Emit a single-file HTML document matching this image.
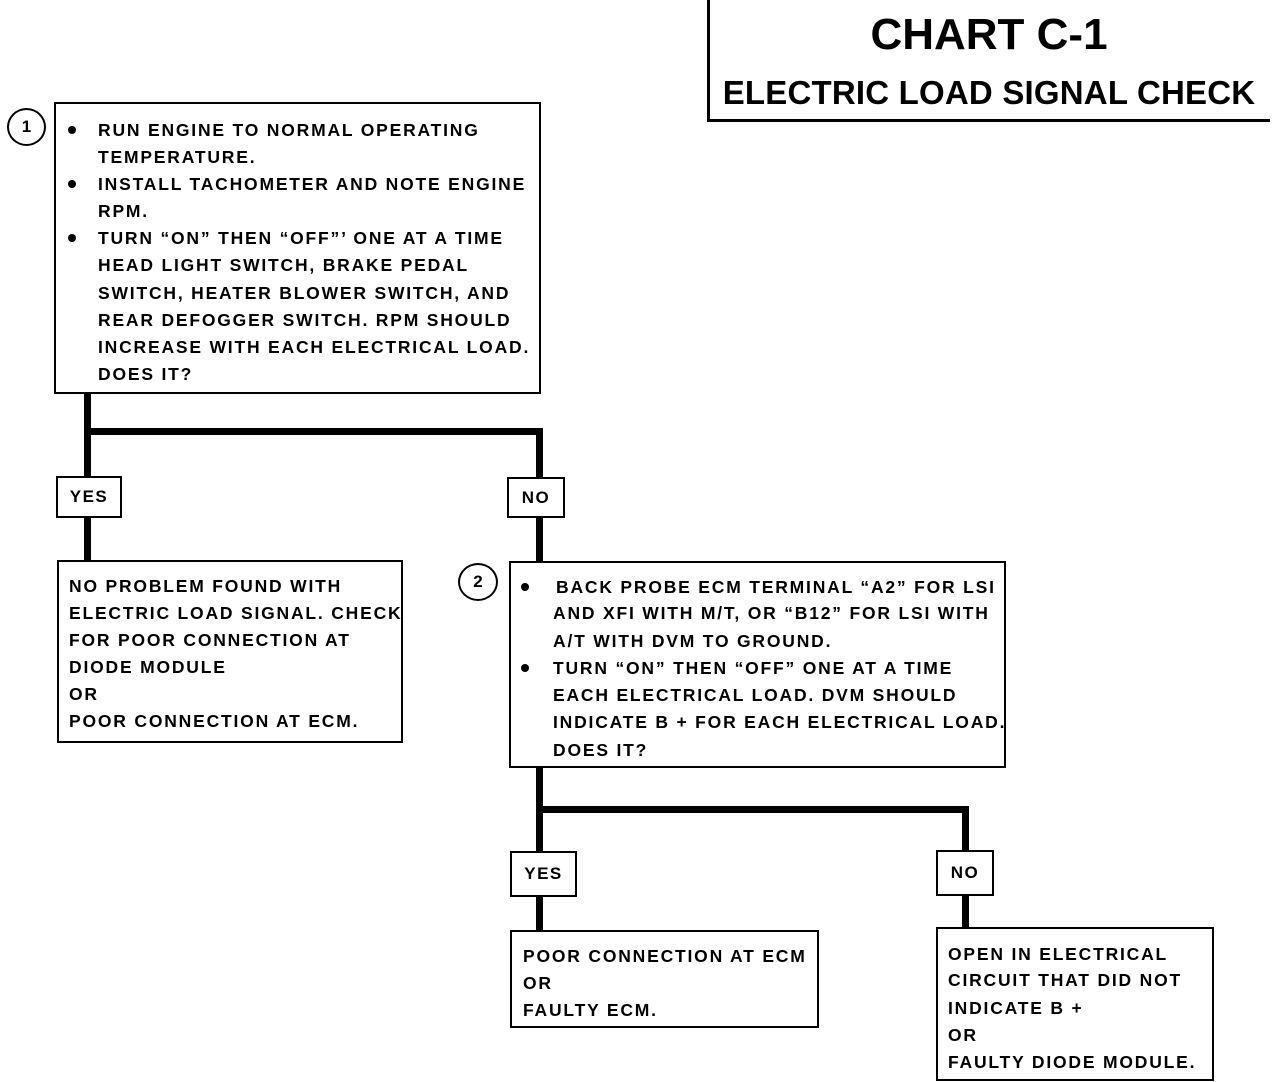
<!DOCTYPE html>
<html><head><meta charset="utf-8">
<style>
body{margin:0;width:1280px;height:1082px;background:#fff;position:relative;overflow:hidden;font-family:"Liberation Sans",sans-serif;font-weight:bold;color:#000}
.b{position:absolute;border:2.5px solid #000;box-sizing:border-box;background:#fff}
.l{position:absolute;background:#000}
.t{position:absolute;font-size:17.5px;line-height:26px;white-space:nowrap;letter-spacing:1.8px}
.dot{position:absolute;width:8px;height:8px;border-radius:50%;background:#000}
.c{position:absolute;border:2px solid #000;border-radius:50%;box-sizing:border-box;font-size:17px;text-align:center;font-weight:bold}
.lab{position:absolute;font-size:17px;display:flex;align-items:center;justify-content:center;letter-spacing:1.5px}
</style></head><body>
<!-- title -->
<div class="l" style="left:707px;top:0;width:2.5px;height:122px"></div>
<div class="l" style="left:707px;top:119px;width:563px;height:2.5px"></div>
<div class="t" style="left:708px;top:10px;width:562px;text-align:center;font-size:44px;line-height:50px;letter-spacing:0">CHART C-1</div>
<div class="t" style="left:708px;top:73px;width:562px;text-align:center;font-size:33px;line-height:40px;letter-spacing:0.2px">ELECTRIC LOAD SIGNAL CHECK</div>

<!-- connectors -->
<div class="l" style="left:84px;top:392px;width:7px;height:170px"></div>
<div class="l" style="left:84px;top:428px;width:459px;height:7px"></div>
<div class="l" style="left:536px;top:428px;width:7px;height:135px"></div>
<div class="l" style="left:536px;top:766px;width:7px;height:166px"></div>
<div class="l" style="left:536px;top:806px;width:433px;height:7px"></div>
<div class="l" style="left:962px;top:806px;width:7px;height:124px"></div>

<!-- box 1 -->
<div class="c" style="left:7px;top:108px;width:39px;height:38px;line-height:34px">1</div>
<div class="b" style="left:54px;top:102px;width:487px;height:292px"></div>
<div class="dot" style="left:68px;top:126px"></div>
<div class="dot" style="left:68px;top:180px"></div>
<div class="dot" style="left:68px;top:234px"></div>
<div class="t" style="left:98px;top:117px">RUN ENGINE TO NORMAL OPERATING</div>
<div class="t" style="left:98px;top:144px">TEMPERATURE.</div>
<div class="t" style="left:98px;top:171px">INSTALL TACHOMETER AND NOTE ENGINE</div>
<div class="t" style="left:98px;top:198px">RPM.</div>
<div class="t" style="left:98px;top:225px">TURN “ON” THEN “OFF”’ ONE AT A TIME</div>
<div class="t" style="left:98px;top:252px">HEAD LIGHT SWITCH, BRAKE PEDAL</div>
<div class="t" style="left:98px;top:280px">SWITCH, HEATER BLOWER SWITCH, AND</div>
<div class="t" style="left:98px;top:307px">REAR DEFOGGER SWITCH.  RPM SHOULD</div>
<div class="t" style="left:98px;top:334px">INCREASE WITH EACH ELECTRICAL LOAD.</div>
<div class="t" style="left:98px;top:361px">DOES IT?</div>

<!-- yes/no 1 -->
<div class="b lab" style="left:56px;top:476px;width:66px;height:42px">YES</div>
<div class="b lab" style="left:507px;top:477px;width:58px;height:41px">NO</div>

<!-- box 3 -->
<div class="b" style="left:57px;top:560px;width:346px;height:183px"></div>
<div class="t" style="left:69px;top:573px">NO PROBLEM FOUND WITH</div>
<div class="t" style="left:69px;top:600px">ELECTRIC LOAD SIGNAL.  CHECK</div>
<div class="t" style="left:69px;top:627px">FOR POOR CONNECTION AT</div>
<div class="t" style="left:69px;top:654px">DIODE MODULE</div>
<div class="t" style="left:69px;top:681px">OR</div>
<div class="t" style="left:69px;top:708px">POOR CONNECTION AT ECM.</div>

<!-- box 2 -->
<div class="c" style="left:458px;top:563px;width:40px;height:38px;line-height:34px">2</div>
<div class="b" style="left:509px;top:561px;width:497px;height:207px"></div>
<div class="dot" style="left:521px;top:583px"></div>
<div class="dot" style="left:521px;top:664px"></div>
<div class="t" style="left:556px;top:574px">BACK PROBE ECM TERMINAL “A2” FOR LSI</div>
<div class="t" style="left:553px;top:600px">AND XFI WITH M/T, OR “B12” FOR LSI WITH</div>
<div class="t" style="left:553px;top:628px">A/T WITH DVM TO GROUND.</div>
<div class="t" style="left:553px;top:655px">TURN “ON” THEN “OFF” ONE AT A TIME</div>
<div class="t" style="left:553px;top:682px">EACH ELECTRICAL LOAD.  DVM SHOULD</div>
<div class="t" style="left:553px;top:709px">INDICATE B + FOR EACH ELECTRICAL LOAD.</div>
<div class="t" style="left:553px;top:737px">DOES IT?</div>

<!-- yes/no 2 -->
<div class="b lab" style="left:510px;top:851px;width:67px;height:46px">YES</div>
<div class="b lab" style="left:936px;top:850px;width:58px;height:46px">NO</div>

<!-- box 4 -->
<div class="b" style="left:510px;top:930px;width:309px;height:98px"></div>
<div class="t" style="left:523px;top:943px">POOR CONNECTION AT ECM</div>
<div class="t" style="left:523px;top:970px">OR</div>
<div class="t" style="left:523px;top:997px">FAULTY ECM.</div>

<!-- box 5 -->
<div class="b" style="left:936px;top:927px;width:278px;height:154px"></div>
<div class="t" style="left:948px;top:941px">OPEN IN ELECTRICAL</div>
<div class="t" style="left:948px;top:967px">CIRCUIT THAT DID NOT</div>
<div class="t" style="left:948px;top:995px">INDICATE B +</div>
<div class="t" style="left:948px;top:1022px">OR</div>
<div class="t" style="left:948px;top:1049px">FAULTY DIODE MODULE.</div>
</body></html>
